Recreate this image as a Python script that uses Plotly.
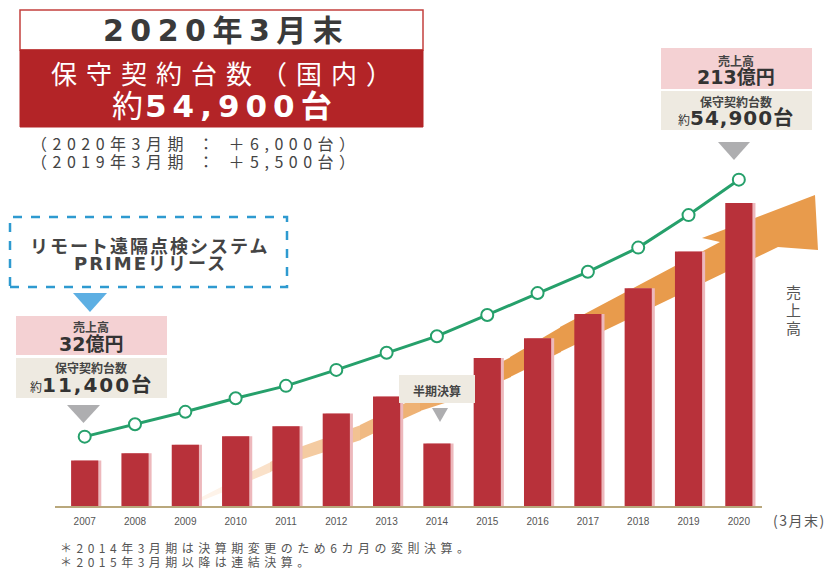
import plotly.graph_objects as go

W, H = 831, 570

years = [2007, 2008, 2009, 2010, 2011, 2012, 2013, 2014, 2015, 2016, 2017, 2018, 2019, 2020]
sales = [32, 37, 43, 49, 56, 65, 77, 44, 104, 118, 135, 153, 179, 213]  # 億円
units = [11400, 13500, 15600, 17900, 20000, 22700, 25600, 28400, 32000, 35700, 39300, 43400, 48900, 54900]

RED = "#B8313A"
GREEN = "#26A06B"
JP = "Noto Sans CJK JP"
BOLDNUM = "DejaVu Sans, Noto Sans CJK JP"


def px(x):
    return x / W


def py(y):
    return 1 - y / H


def hexrgb(h):
    h = h.lstrip("#")
    return [int(h[i:i + 2], 16) for i in (0, 2, 4)]


def mix(c1, c2, t):
    a, b = hexrgb(c1), hexrgb(c2)
    return "rgb(%d,%d,%d)" % tuple(round(a[i] + (b[i] - a[i]) * t) for i in range(3))


fig = go.Figure()

# light edge behind bars
fig.add_trace(go.Bar(x=years, y=sales, width=0.54, offset=-0.21, marker_color="#EDB8BC",
                     marker_line_width=0, hoverinfo="skip", showlegend=False))
fig.add_trace(go.Bar(x=years, y=sales, width=0.54, marker_color=RED, marker_line_width=0,
                     showlegend=False, name="売上高"))
fig.add_trace(go.Scatter(x=years, y=units, yaxis="y2", mode="lines+markers",
                         line=dict(color=GREEN, width=3),
                         marker=dict(size=12, color="white", line=dict(color=GREEN, width=2)),
                         showlegend=False, name="保守契約台数"))

shapes = []

# orange growth arrow (decoration, pixel space)
bx = [186, 230, 270, 300, 330, 360, 390, 420, 450, 480, 510, 560]
bu = [505, 482, 462, 447, 436, 425, 410, 396, 385, 373, 357, 327]
bl = [507, 489, 472, 460, 450, 440, 425, 411, 401, 390, 377, 352]
for i in range(len(bx) - 1):
    t = min(max((bx[i] - 180) / 300, 0), 1)
    col = mix("#FFF7F0", "#E89B4C", t ** 0.8)
    x0, x1 = bx[i], bx[i + 1] + 1
    path = "M %f %f L %f %f L %f %f L %f %f Z" % (
        px(x0), py(bu[i]), px(x1), py(bu[i + 1]), px(x1), py(bl[i + 1]), px(x0), py(bl[i]))
    shapes.append(dict(type="path", xref="paper", yref="paper", path=path,
                       fillcolor=col, line_width=0, layer="below"))
head = [(560, 327), (720, 242), (702, 238), (815, 195), (818, 250), (778, 247), (560, 352)]
path = "M " + " L ".join("%f %f" % (px(a), py(b)) for a, b in head) + " Z"
shapes.append(dict(type="path", xref="paper", yref="paper", path=path,
                   fillcolor="#E89B4C", line_width=0, layer="below"))


def rect(x0, y0, x1, y1, fill, line=None, dash=None, width=0):
    shapes.append(dict(type="rect", xref="paper", yref="paper",
                       x0=px(x0), x1=px(x1), y0=py(y1), y1=py(y0),
                       fillcolor=fill, layer="above",
                       line=dict(color=line or fill, width=width, dash=dash)))


def tri(x0, x1, y0, y1, fill):
    xm = (x0 + x1) / 2
    shapes.append(dict(type="path", xref="paper", yref="paper", layer="above",
                       path="M %f %f L %f %f L %f %f Z" % (px(x0), py(y0), px(x1), py(y0), px(xm), py(y1)),
                       fillcolor=fill, line_width=0))


rect(20, 10, 423, 50, "white", line="#C4403E", width=1.5)
rect(20, 50, 423, 127, "#B32427", line="#B32427", width=1)
rect(10, 217, 287, 287, "rgba(0,0,0,0)", line="#2E9AD0", dash="dash", width=2.5)
tri(73, 107, 293, 312, "#5DAFE3")
rect(16, 316, 167, 355, "#F4D1D3")
rect(16, 358, 167, 398, "#EEEAE1")
tri(67, 100, 405, 423, "#AEAEB0")
rect(661, 48, 812, 89, "#F4D1D3")
rect(661, 91, 812, 130, "#EEEAE1")
tri(718, 750, 142, 160, "#AEAEB0")
rect(399, 375, 475, 403, "#EEEAE1")
tri(432, 448, 408, 422, "#AEAEB0")

annotations = []


def label(x, y, text, size, color="#444", family=JP, xanchor="center"):
    annotations.append(dict(x=px(x), y=py(y), xref="paper", yref="paper", text=text,
                            showarrow=False, xanchor=xanchor, yanchor="middle",
                            font=dict(size=size, color=color, family=family)))


def ls(text, n):
    return '<span style="letter-spacing:%.1fpx">%s</span>' % (n, text)


label(226, 31, "<b>" + ls("2020年3月末", 6.5) + "</b>", 30, "#3A3A3A", BOLDNUM)
label(226, 73, ls("保守契約台数（国内）", 9), 26, "white")
label(225, 106, ls("約", 2) + "<b>" + ls("54,900台", 6) + "</b>", 31, "white", BOLDNUM)
label(196, 143, ls("（2020年3月期 ： ＋6,000台）", 5.5), 16, "#444")
label(196, 161, ls("（2019年3月期 ： ＋5,500台）", 5.5), 16, "#444")

label(149, 245, "<b>" + ls("リモート遠隔点検システム", 2) + "</b>", 18, "#444")
label(150, 263, "<b>" + ls("PRIMEリリース", 2) + "</b>", 18, "#444", BOLDNUM)

label(91, 326, "<b>売上高</b>", 12, "#444")
label(91, 344, "<b>32億円</b>", 19, "#333", BOLDNUM)
label(91, 367, "<b>保守契約台数</b>", 12, "#444")
label(91, 385, "<span style='font-size:12px'>約</span><b>" + ls("11,400台", 2) + "</b>", 20, "#333", BOLDNUM)

label(736, 60, "<b>売上高</b>", 12, "#444")
label(736, 77, "<b>213億円</b>", 19, "#333", BOLDNUM)
label(736, 101, "<b>保守契約台数</b>", 12, "#444")
label(736, 118, "<span style='font-size:12px'>約</span><b>" + ls("54,900台", 1) + "</b>", 20, "#333", BOLDNUM)

label(437, 390, "<b>半期決算</b>", 12, "#444")
for ch, yy in zip("売上高", [291, 309, 327]):
    label(793, yy, ch, 15, "#555")
label(799, 520, ls("(3月末)", 1.5), 14, "#555")
label(58, 547, ls("＊2014年3月期は決算期変更のため6カ月の変則決算。", 4.5), 12, "#555", xanchor="left")
label(58, 561, ls("＊2015年3月期以降は連結決算。", 4.5), 12, "#555", xanchor="left")

fig.update_layout(
    width=W, height=H,
    margin=dict(l=0, r=0, t=0, b=0),
    paper_bgcolor="white", plot_bgcolor="white",
    barmode="overlay",
    showlegend=False,
    xaxis=dict(domain=[55 / W, 762 / W], range=[2006.41, 2020.46],
               tickvals=years, ticktext=[str(y) for y in years],
               tickfont=dict(size=10, color="#555", family="Liberation Sans Narrow, Liberation Sans"),
               showline=True, linecolor="#B9A87C", linewidth=1.5,
               showgrid=False, zeroline=False, ticks="", ticklabelstandoff=5),
    yaxis=dict(domain=[64 / H, 560 / H], range=[0, 348.7], visible=False,
               showgrid=False, zeroline=False),
    yaxis2=dict(overlaying="y", range=[-339, 83616], visible=False,
                showgrid=False, zeroline=False),
    shapes=shapes,
    annotations=annotations,
)

fig.write_html("out.html", config={"displayModeBar": False},
               post_script="document.body.style.margin='0px';document.body.style.overflow='hidden';")
